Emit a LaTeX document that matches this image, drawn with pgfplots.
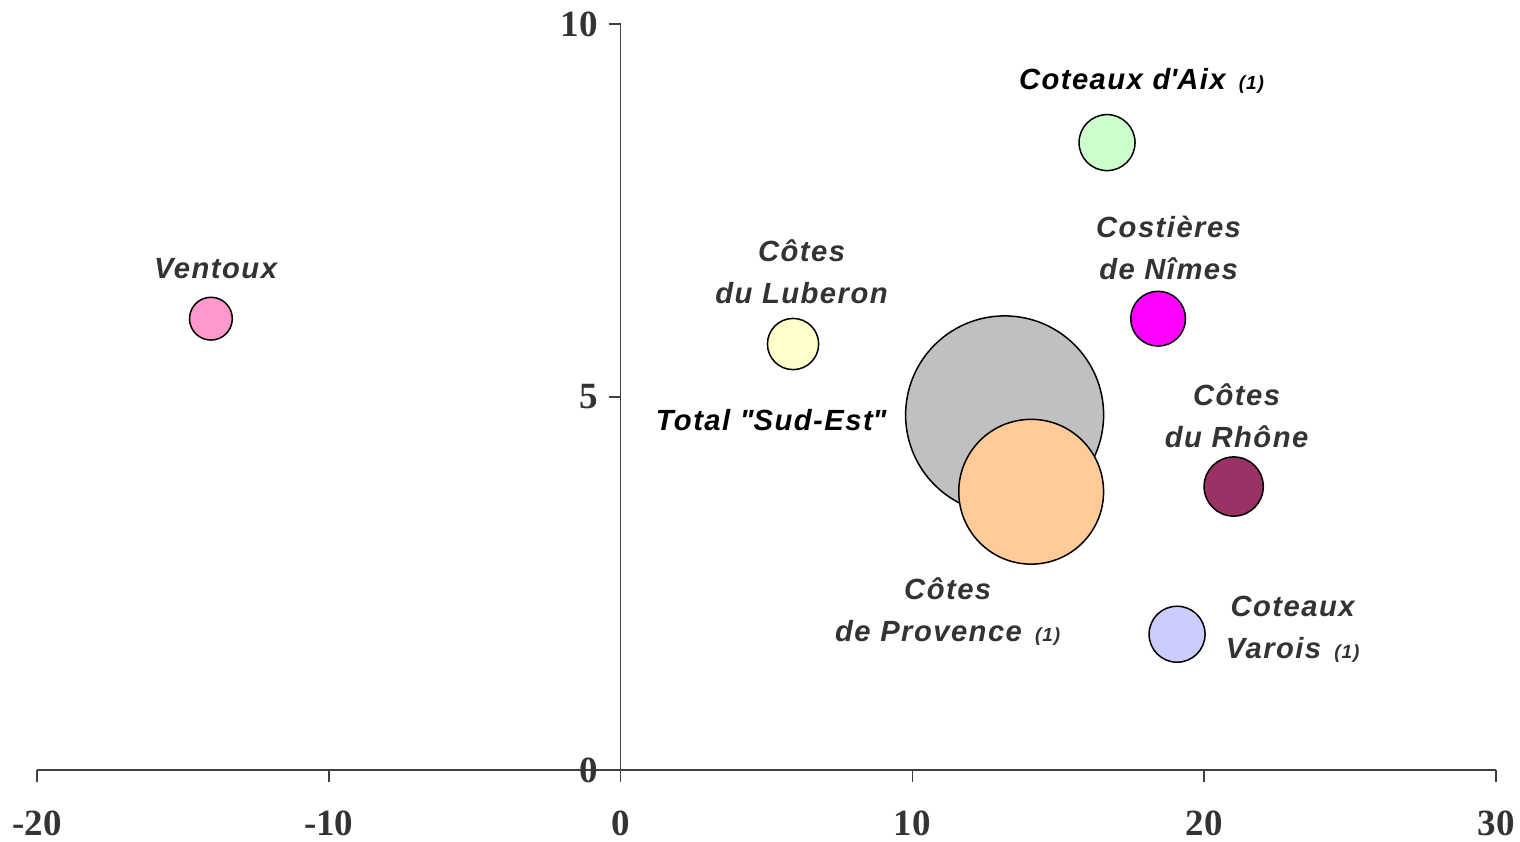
\documentclass[border=0pt]{standalone}
\usepackage{fontspec}
\setmainfont{Liberation Serif}
\newfontfamily\lblfont{Liberation Sans}[LetterSpace=5]
\usepackage{pgfplots}
\pgfplotsset{compat=1.18}

\definecolor{axisgray}{HTML}{404040}
\definecolor{txtgray}{HTML}{333333}
\definecolor{cventoux}{HTML}{FF99CC}
\definecolor{cluberon}{HTML}{FFFFCC}
\definecolor{ctotal}{HTML}{C0C0C0}
\definecolor{cprovence}{HTML}{FFCC99}
\definecolor{caix}{HTML}{CCFFCC}
\definecolor{cnimes}{HTML}{FF00FF}
\definecolor{crhone}{HTML}{993366}
\definecolor{cvarois}{HTML}{CCCCFF}

\newcommand{\lbl}{\fontsize{14.6}{21}\selectfont\lblfont\bfseries\itshape}
\newcommand{\note}{\hspace{0.45em}{\fontsize{9.5}{10}\selectfont(1)}}

\begin{document}
\begin{tikzpicture}
\begin{axis}[
    scale only axis, width=729.5pt, height=373pt,
    xmin=-20, xmax=30, ymin=0, ymax=10,
    axis x line*=bottom, axis y line*=middle,
    axis line style={axisgray, line width=0.8pt},
    xtick={-20,-10,0,10,20,30}, ytick={0,5,10},
    hide obscured x ticks=false, hide obscured y ticks=false,
    tick align=outside, major tick length=6pt,
    tick style={axisgray, line width=0.8pt},
    ticklabel style={font=\fontsize{18.5}{20}\selectfont\bfseries, text=txtgray},
    xticklabel style={yshift=-11pt},
    yticklabel style={xshift=-2pt},
    /pgf/number format/assume math mode=true,
    clip=false,
]
% bubbles: x, y; radius in pt as mark size
\addplot[only marks, mark=*, mark size=10.7pt, mark options={fill=cventoux, draw=black, line width=0.75pt}]
  coordinates {(-14.04,6.05)};
\addplot[only marks, mark=*, mark size=12.8pt, mark options={fill=cluberon, draw=black, line width=0.75pt}]
  coordinates {(5.91,5.71)};
\addplot[only marks, mark=*, mark size=49.5pt, mark options={fill=ctotal, draw=black, line width=0.75pt}]
  coordinates {(13.16,4.76)};
\addplot[only marks, mark=*, mark size=36.2pt, mark options={fill=cprovence, draw=black, line width=0.75pt}]
  coordinates {(14.07,3.73)};
\addplot[only marks, mark=*, mark size=14pt, mark options={fill=caix, draw=black, line width=0.75pt}]
  coordinates {(16.67,8.41)};
\addplot[only marks, mark=*, mark size=13.7pt, mark options={fill=cnimes, draw=black, line width=0.75pt}]
  coordinates {(18.42,6.05)};
\addplot[only marks, mark=*, mark size=14.8pt, mark options={fill=crhone, draw=black, line width=0.75pt}]
  coordinates {(21.01,3.80)};
\addplot[only marks, mark=*, mark size=14pt, mark options={fill=cvarois, draw=black, line width=0.75pt}]
  coordinates {(19.07,1.82)};

\node[text=txtgray, font=\lbl] at (axis cs:-13.88,6.72) {Ventoux};
\node[text=txtgray, font=\lbl, align=center] at (axis cs:6.2,6.68) {Côtes\\du Luberon};
\node[text=black, font=\lbl] at (axis cs:5.16,4.69) {Total \textquotedbl Sud-Est\textquotedbl};
\node[text=black, font=\lbl] at (axis cs:17.85,9.24) {Coteaux d\textquotesingle Aix\note};
\node[text=txtgray, font=\lbl, align=center] at (axis cs:18.78,7.0) {Costières\\de Nîmes};
\node[text=txtgray, font=\lbl, align=center] at (axis cs:21.11,4.75) {Côtes\\du Rhône};
\node[text=txtgray, font=\lbl, align=center] at (axis cs:11.21,2.12) {Côtes\\de Provence\note};
\node[text=txtgray, font=\lbl, align=center] at (axis cs:23.03,1.88) {Coteaux\\Varois\note};
\end{axis}
\pgfresetboundingbox
\path[use as bounding box] ([xshift=-18.5pt,yshift=-35.5pt]current axis.south west)
  rectangle ([xshift=12pt,yshift=12pt]current axis.north east);
\end{tikzpicture}
\end{document}
